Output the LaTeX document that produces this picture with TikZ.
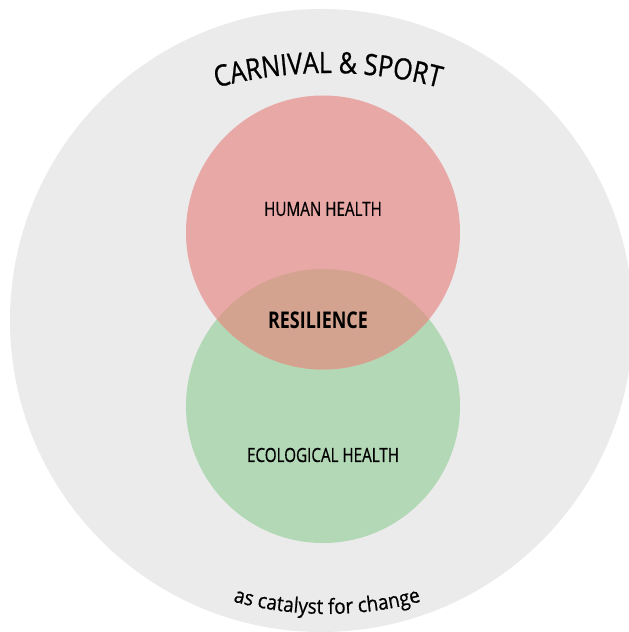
\documentclass[tikz,border=0pt]{standalone}
\usepackage{fontspec}
\usetikzlibrary{decorations.text}
\newfontfamily\cfont{Open Sans}[FakeStretch=0.78, FakeBold=0.6]
\newfontfamily\bfont{Open Sans Bold}[FakeStretch=0.78]
\newfontfamily\tfont{Open Sans}[FakeStretch=0.85, FakeBold=0.8]
\newfontfamily\sfont{Open Sans}[FakeStretch=0.9, FakeBold=0.6]
\definecolor{outergray}{HTML}{EBEBEB}
\definecolor{humanred}{HTML}{E8A8A6}
\definecolor{ecogreen}{HTML}{B2D8B6}
\definecolor{overlapc}{HTML}{D4A38F}
\tikzset{
  lbl/.style={font=\cfont\fontsize{19.5}{22}\selectfont, text=black, inner sep=0pt},
  boldlbl/.style={font=\bfont\fontsize{23}{26}\selectfont, text=black, inner sep=0pt}
}
\begin{document}
\begin{tikzpicture}[x=1pt,y=1pt]
\useasboundingbox (0,0) rectangle (629,632);
\clip (0,0) rectangle (629,632);
% outer circle
\fill[outergray] (321.5,311.5) circle[radius=311.5];
% green and red circles
\fill[ecogreen] (323,226) circle[radius=137];
\fill[humanred] (323,399.5) circle[radius=137];
\begin{scope}
  \clip (323,226) circle[radius=137];
  \fill[overlapc] (323,399.5) circle[radius=137];
\end{scope}
% labels
\node[lbl] (human) at (323,423) {HUMAN HEALTH};
\node[boldlbl] (res) at (318,312) {RESILIENCE};
\node[lbl] (eco) at (323,177) {ECOLOGICAL HEALTH};
% curved texts
\path[decorate, decoration={text along path, text align=center,
  text={|\tfont\fontsize{29.4}{31}\selectfont|CARNIVAL {\&} SPORT}}]
  ([shift={(328,129)}]112:430) arc[start angle=112, end angle=68, radius=430];
\path[decorate, decoration={text along path, text align=center,
  text={|\sfont\fontsize{21}{23}\selectfont|as catalyst for change}}]
  ([shift={(327,378)}]235:360) arc[start angle=235, end angle=305, radius=360];
\end{tikzpicture}
\end{document}
